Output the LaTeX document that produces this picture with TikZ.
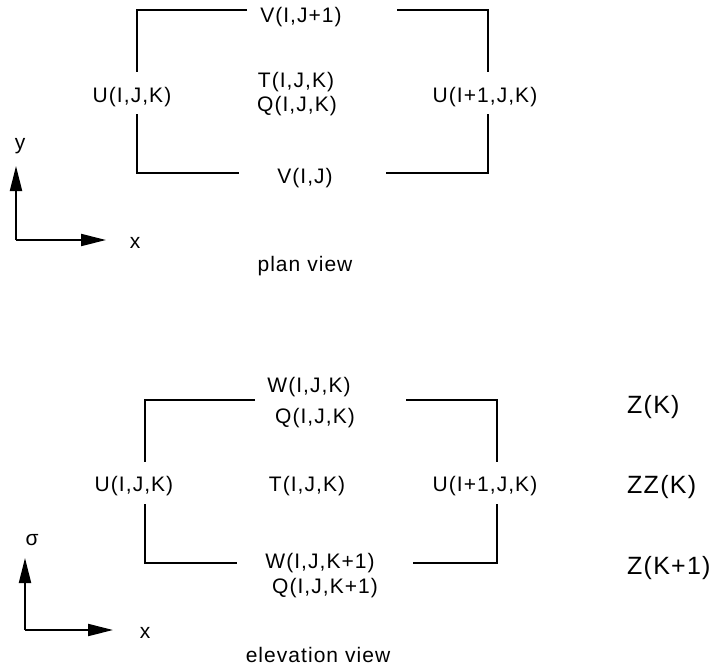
\documentclass[tikz,border=0pt]{standalone}
\usepackage{fontspec}
\setmainfont[LetterSpace=5]{Liberation Sans}
\usetikzlibrary{arrows.meta}
\begin{document}
\begin{tikzpicture}[x=1pt,y=-1pt,
  lbl/.style={inner sep=0pt,font=\fontsize{21}{24}\selectfont},
  zlbl/.style={inner sep=0pt,anchor=west,font=\fontsize{25}{30}\selectfont},
  wall/.style={line width=2pt},
  axis/.style={line width=2pt,-{Triangle[length=25pt,width=12pt]}}]
\useasboundingbox (0,0) rectangle (712,670);
% ---------- plan view ----------
\draw[wall] (247,9.5) -- (137,9.5) -- (137,72);
\draw[wall] (137,114) -- (137,173) -- (239,173);
\draw[wall] (397,9.5) -- (488,9.5) -- (488,72);
\draw[wall] (488,114) -- (488,173) -- (386,173);
\node[lbl] (pv1) at (301,17) {V(I,J+1)};
\node[lbl] (pt) at (296,82) {T(I,J,K)};
\node[lbl] (pq) at (297,106) {Q(I,J,K)};
\node[lbl] (pu) at (132,97) {U(I,J,K)};
\node[lbl] (pu1) at (485,97) {U(I+1,J,K)};
\node[lbl] (pv) at (305,178) {V(I,J)};
\node[lbl] (py) at (20,146) {y};
\node[lbl] (px) at (135,243) {x};
\node[lbl] (ptitle) at (305,266) {plan view};
\coordinate (po) at (16,240);
\coordinate (poy) at (16,166);
\coordinate (pox) at (106,240);
\draw[axis] (po) -- (poy);
\draw[axis] (po) -- (pox);
% ---------- elevation view ----------
\draw[wall] (255,400) -- (145,400) -- (145,462);
\draw[wall] (145,504) -- (145,563) -- (237,563);
\draw[wall] (406,400) -- (497,400) -- (497,462);
\draw[wall] (497,504) -- (497,563) -- (413,563);
\node[lbl] (ew) at (309,387) {W(I,J,K)};
\node[lbl] (eq) at (315,418) {Q(I,J,K)};
\node[lbl] (et) at (307,486) {T(I,J,K)};
\node[lbl] (eu) at (134,486) {U(I,J,K)};
\node[lbl] (eu1) at (485,486) {U(I+1,J,K)};
\node[lbl] (ew1) at (320,563) {W(I,J,K+1)};
\node[lbl] (eq1) at (325,588) {Q(I,J,K+1)};
\node[zlbl] (z1) at (627,407) {Z(K)};
\node[zlbl] (zz) at (627,487) {ZZ(K)};
\node[zlbl] (z2) at (627,568) {Z(K+1)};
\node[lbl] (es) at (32,540) {σ};
\node[lbl] (ex) at (145,633) {x};
\node[lbl] (etitle) at (318,655) {elevation view};
\coordinate (eo) at (25,630);
\coordinate (eoy) at (25,558);
\coordinate (eox) at (113,630);
\draw[axis] (eo) -- (eoy);
\draw[axis] (eo) -- (eox);
\end{tikzpicture}
\end{document}
